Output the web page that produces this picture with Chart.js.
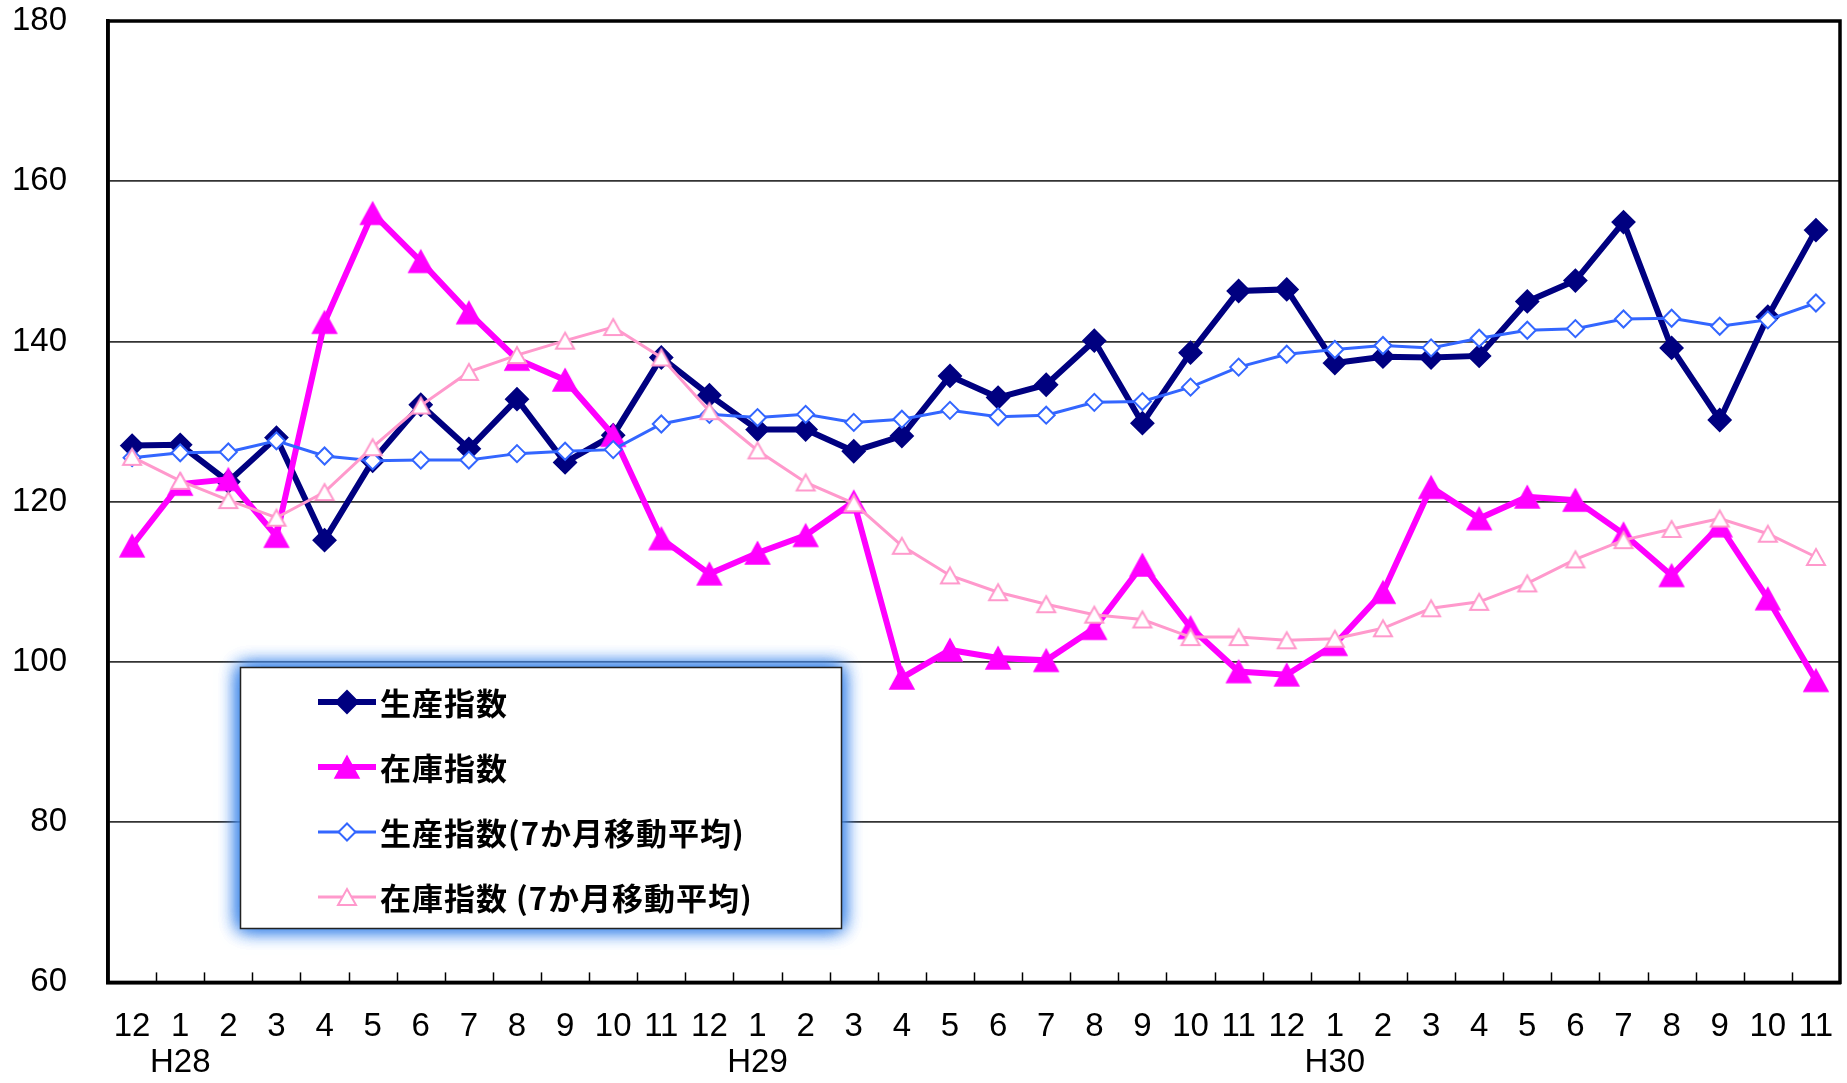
<!DOCTYPE html>
<html>
<head>
<meta charset="utf-8">
<script src="https://cdn.jsdelivr.net/npm/chart.js@4.4.1/dist/chart.umd.min.js"></script>
<style>
html,body{margin:0;padding:0;background:#ffffff;}
#wrap{width:1847px;height:1083px;position:relative;}
canvas{display:block;}
</style>
</head>
<body>
<div id="wrap"><canvas id="c" width="1847" height="1083"></canvas></div>
<script>
// ---- data ----
const months = ['12','1','2','3','4','5','6','7','8','9','10','11','12','1','2','3','4','5','6','7','8','9','10','11','12','1','2','3','4','5','6','7','8','9','10','11'];
const eraIndex = [1, 13, 25];
const eraNames = ['H28', 'H29', 'H30'];
const seriesNames = ['生産指数', '在庫指数', '生産指数(7か月移動平均)', '在庫指数 (7か月移動平均)'];
const production = [127.0,127.1,122.5,128.0,115.2,125.1,132.1,126.6,132.8,124.9,128.3,138.0,133.3,129.0,129.0,126.3,128.2,135.7,133.0,134.6,140.1,129.8,138.6,146.3,146.5,137.3,138.1,138.0,138.2,145.0,147.6,154.9,139.2,130.2,143.1,153.9];
const inventory = [114.5,122.2,122.8,115.7,142.4,156.0,150.0,143.6,137.8,135.2,128.3,115.4,111.0,113.6,115.8,120.0,98.0,101.5,100.5,100.2,104.2,112.1,104.3,98.8,98.4,102.2,108.7,121.8,117.9,120.6,120.2,116.0,110.8,117.0,107.9,97.7];
const productionMA = [125.5,126.1,126.2,127.6,125.7,125.1,125.2,125.2,126.0,126.3,126.5,129.7,130.9,130.5,130.9,129.9,130.3,131.4,130.6,130.8,132.4,132.5,134.3,136.8,138.4,139.0,139.5,139.2,140.4,141.4,141.6,142.8,142.9,141.9,142.7,144.8];
const inventoryMA = [125.6,122.6,120.2,118.0,121.2,126.8,132.0,136.2,138.3,140.1,141.8,138.0,131.3,126.4,122.4,119.8,114.5,110.8,108.7,107.2,105.9,105.3,103.1,103.1,102.7,102.9,104.2,106.7,107.5,109.8,112.8,115.2,116.6,117.9,116.0,113.1];
const yTicks = [60, 80, 100, 120, 140, 160, 180];

// ---- colours / styles ----
const NAVY = '#000080', MAGENTA = '#FF00FF', BLUE = '#3366FF', PINK = '#FF99CC';
const numFont = "'Liberation Sans', Arial, sans-serif";
const cjkFont = "'Noto Sans CJK JP', 'Noto Sans CJK SC', sans-serif";

// triangle markers centred on their bounding box (Excel style)
function triangleCanvas(w, h, fill, stroke, lw) {
  const pad = Math.ceil(lw) + 1;
  const cv = document.createElement('canvas');
  cv.width = w + 2 * pad; cv.height = h + 2 * pad;
  const c = cv.getContext('2d');
  c.beginPath();
  c.moveTo(pad + w / 2, pad);
  c.lineTo(pad + w, pad + h);
  c.lineTo(pad, pad + h);
  c.closePath();
  c.fillStyle = fill; c.fill();
  if (lw > 0) { c.lineWidth = lw; c.strokeStyle = stroke; c.lineJoin = 'miter'; c.stroke(); }
  return cv;
}
const triFilled = triangleCanvas(24, 22, MAGENTA, MAGENTA, 1.5);
const triOpen = triangleCanvas(18, 16, '#ffffff', PINK, 2);

const labels = months.map((m, i) => {
  const k = eraIndex.indexOf(i);
  return k >= 0 ? [m, eraNames[k]] : m;
});

const datasets = [
  { label: seriesNames[0], data: production, borderColor: NAVY, backgroundColor: NAVY, borderWidth: 6,
    pointStyle: 'rectRot', pointRadius: 11, pointBorderWidth: 2, pointBackgroundColor: NAVY, pointBorderColor: NAVY, order: 4 },
  { label: seriesNames[1], data: inventory, borderColor: MAGENTA, backgroundColor: MAGENTA, borderWidth: 6,
    pointStyle: triFilled, order: 3 },
  { label: seriesNames[2], data: productionMA, borderColor: BLUE, backgroundColor: '#ffffff', borderWidth: 3,
    pointStyle: 'rectRot', pointRadius: 8.5, pointBorderWidth: 2, pointBackgroundColor: '#ffffff', pointBorderColor: BLUE, order: 2 },
  { label: seriesNames[3], data: inventoryMA, borderColor: PINK, backgroundColor: '#ffffff', borderWidth: 3,
    pointStyle: triOpen, order: 1 }
];
datasets.forEach(d => { d.tension = 0; d.fill = false; d.pointHoverRadius = d.pointRadius; });

function drawDiamond(ctx, x, y, r, fill, stroke, lw) {
  ctx.beginPath();
  ctx.moveTo(x - r, y); ctx.lineTo(x, y - r); ctx.lineTo(x + r, y); ctx.lineTo(x, y + r); ctx.closePath();
  ctx.fillStyle = fill; ctx.fill();
  ctx.lineWidth = lw; ctx.strokeStyle = stroke; ctx.stroke();
}

const framePlugin = {
  id: 'frame',
  afterDatasetsDraw(chart) {
    const { ctx, chartArea: a, scales: { x } } = chart;
    ctx.save();
    ctx.strokeStyle = '#000';
    ctx.lineWidth = 1.5;
    for (let i = 1; i < labels.length; i++) {
      const px = Math.round((x.getPixelForValue(i - 1) + x.getPixelForValue(i)) / 2) + 0.5;
      ctx.beginPath(); ctx.moveTo(px, a.bottom); ctx.lineTo(px, a.bottom - 10); ctx.stroke();
    }
    ctx.lineWidth = 3.5;
    ctx.strokeRect(a.left, a.top, a.right - a.left, a.bottom - a.top);
    ctx.restore();
  }
};

const boxLegend = {
  id: 'boxLegend',
  afterDraw(chart) {
    const ctx = chart.ctx;
    const bx = 240, by = 667, bw = 601, bh = 261;
    ctx.save();
    // blue glow
    ctx.shadowColor = 'rgba(70,140,235,1)';
    ctx.shadowBlur = 18;
    ctx.fillStyle = '#ffffff';
    for (let k = 0; k < 3; k++) ctx.fillRect(bx, by, bw, bh);
    ctx.shadowColor = 'transparent';
    ctx.shadowBlur = 0;
    ctx.fillRect(bx, by, bw, bh);
    ctx.lineWidth = 1.5;
    ctx.strokeStyle = '#222';
    ctx.strokeRect(bx + 0.5, by + 0.5, bw, bh);

    const rowY0 = by + 35, rowStep = 65;
    const sx0 = 318, sx1 = 376, mx = 347, tx = 380;
    chart.data.datasets.forEach((d, i) => {
      const y = rowY0 + i * rowStep;
      ctx.beginPath();
      ctx.moveTo(sx0, y); ctx.lineTo(sx1, y);
      ctx.lineWidth = d.borderWidth; ctx.strokeStyle = d.borderColor; ctx.lineCap = 'butt';
      ctx.stroke();
      if (d.pointStyle === 'rectRot') {
        drawDiamond(ctx, mx, y, d.pointRadius, d.pointBackgroundColor, d.pointBorderColor, d.pointBorderWidth);
      } else {
        const img = d.pointStyle;
        ctx.drawImage(img, mx - img.width / 2, y - img.height / 2);
      }
      ctx.fillStyle = '#000';
      ctx.font = 'bold 31px ' + cjkFont;
      try { ctx.letterSpacing = '1px'; } catch (e) {}
      ctx.textBaseline = 'middle';
      ctx.textAlign = 'left';
      ctx.fillText(d.label, tx, y + 1);
    });
    ctx.restore();
  }
};

new Chart(document.getElementById('c'), {
  type: 'line',
  data: { labels: labels, datasets: datasets },
  options: {
    responsive: false,
    devicePixelRatio: 1,
    animation: false,
    events: [],
    layout: { autoPadding: false, padding: { left: 12, right: 7, top: 21, bottom: 2 } },
    plugins: { legend: { display: false }, tooltip: { enabled: false }, title: { display: false } },
    scales: {
      x: {
        type: 'category',
        offset: true,
        grid: { display: true, drawOnChartArea: false, drawTicks: true, tickLength: 26, tickColor: 'rgba(0,0,0,0)' },
        border: { display: true, color: '#000', width: 3.5 },
        ticks: {
          color: '#000', padding: 0, maxRotation: 0, minRotation: 0, autoSkip: false,
          font: { family: numFont, size: 33, lineHeight: 1.1 }
        }
      },
      y: {
        min: 60, max: 180,
        afterBuildTicks: s => { s.ticks = yTicks.map(v => ({ value: v })); },
        grid: { color: '#333333', lineWidth: 1.8, drawTicks: true, tickLength: 41, tickColor: 'rgba(0,0,0,0)' },
        border: { display: true, color: '#000', width: 3.5 },
        ticks: {
          color: '#000', padding: 0,
          font: { family: numFont, size: 33, lineHeight: 1.1 }
        }
      }
    }
  },
  plugins: [framePlugin, boxLegend]
});
</script>
</body>
</html>
